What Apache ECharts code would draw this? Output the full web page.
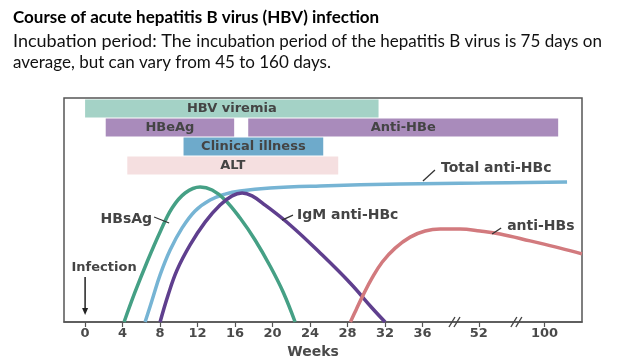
<!DOCTYPE html>
<html><head><meta charset="utf-8">
<script src="https://cdn.jsdelivr.net/npm/echarts@6/dist/echarts.min.js"></script>
<style>html,body{margin:0;padding:0;background:#fff}#c{width:638px;height:359px}</style>
</head><body><div id="c"></div>
<script>
// ---------- data ----------
const weekTicks = [0, 4, 8, 12, 16, 20, 24, 28, 32, 36, 52, 100];

const barNames = ['HBV viremia', 'HBeAg', 'Anti-HBe', 'Clinical illness', 'ALT'];
const barStart = [0, 2.2, 17.4, 10.5, 4.5];
const barEnd   = [31.3, 15.9, 110, 25.4, 27.0];
const barRow   = [0, 1, 1, 2, 3];

const hbsagWeeks = [4.16, 5.33, 6.61, 8.0, 9.28, 10.67, 12.27, 13.55, 14.93, 16.53, 18.13, 19.73, 21.12, 22.4];
const hbsagLevel = [0, 13.4, 26.8, 40.2, 50.9, 57.6, 60.3, 58.9, 54.5, 46.4, 36.6, 25, 13.4, 0];

const totalAntiHBcWeeks = [6.4, 7.15, 8.0, 9.07, 10.35, 11.73, 13.33, 14.93, 16.53, 19.73, 25.07, 33.6, 52.9, 116.5];
const totalAntiHBcLevel = [0, 9.8, 21, 32.1, 42, 49.6, 54.5, 57.1, 58.5, 59.8, 60.7, 61.6, 62, 62.5];

const igmWeeks = [8, 8.85, 9.81, 11.2, 12.8, 14.4, 15.68, 16.75, 17.81, 19.2, 21.87, 25.07, 28.27, 30.61, 32];
const igmLevel = [0, 12, 23.2, 34.4, 44.6, 52.2, 56.3, 57.6, 56.3, 52.2, 43.3, 30.8, 17.4, 6.25, 0];

const antiHBsWeeks = [28.3, 28.9, 29.65, 30.6, 31.7, 33.07, 34.67, 36.7, 40.98, 46.7, 52.9, 67.6, 89.5, 111.4, 127.4];
const antiHBsLevel = [0, 5.4, 12, 19.6, 26.8, 33, 37.9, 40.6, 41.5, 41.5, 40.6, 39.3, 36.2, 33, 30.4];

// ---------- broken week axis (0-36 linear, then compressed to 52 and 100) ----------
function weekToAxis(w) {
  if (w <= 36) return w;
  if (w <= 52) return 36 + (w - 36) * 6 / 16;
  return 42 + (w - 52) * 7 / 48;
}
const tickPos = weekTicks.map(weekToAxis);

// ---------- styles ----------
const barColors = {'HBV viremia': '#a4d2c6', 'HBeAg': '#a98bbb', 'Anti-HBe': '#a98bbb', 'Clinical illness': '#6eaacb', 'ALT': '#f5dfe0'};
const lineColors = {hbsag: '#45a085', total: '#76b4d4', igm: '#5f3f8e', antihbs: '#d27a7e'};
const labelFont = 'DejaVu Sans';
const textColor = '#444';

// annotations: anchor on a curve (weeks, level) + pixel offsets
const annotations = [
  {text: 'Total anti-HBc', at: [36.1, 62.9], leader: [12, -11], tx: 18, ty: -13, align: 'left'},
  {text: 'IgM anti-HBc', at: [21.0, 45.5], leader: [11, -5], tx: 15, ty: -5, align: 'left'},
  {text: 'HBsAg', at: [8.96, 44.2], leader: [-15, -6], tx: -17, ty: -4, align: 'right'},
  {text: 'anti-HBs', at: [61.7, 39.3], leader: [9, -6], tx: 15, ty: -8, align: 'left'}
];
const breakAt = [39.4, 46.0];

function lineSeries(weeks, level, color) {
  return {
    type: 'line', xAxisIndex: 0, yAxisIndex: 0,
    data: weeks.map((w, i) => [weekToAxis(w), level[i]]),
    smooth: 0.4, showSymbol: false, symbol: 'none',
    lineStyle: {color: color, width: 3.5}, z: 3, silent: true
  };
}

const chart = echarts.init(document.getElementById('c'), null, {renderer: 'canvas'});
chart.setOption({
  animation: false,
  backgroundColor: '#fff',
  title: [
    {text: 'Course of acute hepatitis B virus (HBV) infection', left: 8, top: 4,
     textStyle: {fontFamily: 'Lato', fontWeight: 'bold', fontSize: 17, color: '#000'}},
    {text: '{a|Incubation period: The} {b|incubation period of the hepatitis B virus is 75 days on}\n{b|average, but can vary from 45 to 160 days.}',
     left: 8, top: 26,
     textStyle: {fontWeight: 'normal', lineHeight: 21, rich: {
       a: {fontFamily: 'Lato', fontWeight: 'normal', fontSize: 18, color: '#111', lineHeight: 21},
       b: {fontFamily: 'Lato', fontWeight: 'normal', fontSize: 17, color: '#111', lineHeight: 21}}}}
  ],
  grid: {left: 64, right: 56, top: 98, bottom: 37, show: true, borderColor: '#555', borderWidth: 1.5,
         outerBoundsMode: 'none', containLabel: false},
  xAxis: {
    type: 'value', min: -2.25, max: 53.0,
    axisLine: {show: true, lineStyle: {color: '#555', width: 1.5}},
    axisTick: {show: true, customValues: tickPos, length: 5, lineStyle: {color: '#555', width: 1.2}},
    axisLabel: {customValues: tickPos, margin: 5, fontFamily: labelFont, fontWeight: 'bold', fontSize: 13, color: '#4a4a4a',
      formatter: function (v) {
        for (let i = 0; i < tickPos.length; i++) if (Math.abs(tickPos[i] - v) < 1e-6) return String(weekTicks[i]);
        return '';
      }},
    splitLine: {show: false},
    name: 'Weeks', nameLocation: 'middle', nameGap: 21,
    nameTextStyle: {fontFamily: labelFont, fontWeight: 'bold', fontSize: 14, color: '#4a4a4a', padding: [0, 20, 0, 0]}
  },
  yAxis: [
    {type: 'value', min: 0, max: 100, show: false},
    {type: 'value', inverse: true, min: -0.553, max: 11.24, show: false}
  ],
  series: [
    {
      type: 'custom', xAxisIndex: 0, yAxisIndex: 1, silent: true, z: 2,
      data: barNames.map((n, i) => [weekToAxis(barStart[i]), weekToAxis(barEnd[i]), barRow[i], n]),
      renderItem: function (params, api) {
        const name = barNames[params.dataIndex];
        const s = api.coord([api.value(0), api.value(2)]);
        const e = api.coord([api.value(1), api.value(2)]);
        const h = api.size([0, 1])[1] * 0.95;
        return {type: 'group', children: [
          {type: 'rect', shape: {x: s[0], y: s[1] - h / 2, width: e[0] - s[0], height: h}, style: {fill: barColors[name]}},
          {type: 'text', x: (s[0] + e[0]) / 2, y: s[1], style: {text: name, align: 'center', verticalAlign: 'middle',
            fontFamily: labelFont, fontWeight: 'bold', fontSize: 13, fill: textColor}}
        ]};
      }
    },
    lineSeries(totalAntiHBcWeeks, totalAntiHBcLevel, lineColors.total),
    lineSeries(hbsagWeeks, hbsagLevel, lineColors.hbsag),
    lineSeries(igmWeeks, igmLevel, lineColors.igm),
    lineSeries(antiHBsWeeks, antiHBsLevel, lineColors.antihbs),
    {
      type: 'custom', xAxisIndex: 0, yAxisIndex: 0, silent: true, z: 5, clip: false,
      data: annotations.map(a => [weekToAxis(a.at[0]), a.at[1]]),
      renderItem: function (params, api) {
        const a = annotations[params.dataIndex];
        const p = api.coord([api.value(0), api.value(1)]);
        return {type: 'group', children: [
          {type: 'line', shape: {x1: p[0], y1: p[1], x2: p[0] + a.leader[0], y2: p[1] + a.leader[1]}, style: {stroke: '#333', lineWidth: 1.3}},
          {type: 'text', x: p[0] + a.tx, y: p[1] + a.ty, style: {text: a.text, align: a.align, verticalAlign: 'middle',
            fontFamily: labelFont, fontWeight: 'bold', fontSize: 14, fill: textColor}}
        ]};
      }
    },
    {
      // infection arrow at week 0
      type: 'custom', xAxisIndex: 0, yAxisIndex: 0, silent: true, z: 5, clip: false,
      data: [[weekToAxis(0), 3.1]],
      renderItem: function (params, api) {
        const p = api.coord([api.value(0), api.value(1)]);
        return {type: 'group', children: [
          {type: 'line', shape: {x1: p[0], y1: p[1] - 38, x2: p[0], y2: p[1] - 5}, style: {stroke: '#222', lineWidth: 1.5}},
          {type: 'polygon', shape: {points: [[p[0] - 3, p[1] - 7], [p[0] + 3, p[1] - 7], [p[0], p[1]]]}, style: {fill: '#222'}},
          {type: 'text', x: p[0] + 19, y: p[1] - 47, style: {text: 'Infection', align: 'center', verticalAlign: 'middle',
            fontFamily: labelFont, fontWeight: 'bold', fontSize: 13, fill: textColor}}
        ]};
      }
    },
    {
      // axis break marks
      type: 'custom', xAxisIndex: 0, yAxisIndex: 0, silent: true, z: 6, clip: false,
      data: breakAt.map(u => [u, 0]),
      renderItem: function (params, api) {
        const p = api.coord([api.value(0), api.value(1)]);
        const mk = dx => ({type: 'line', shape: {x1: p[0] + dx - 3, y1: p[1] + 5, x2: p[0] + dx + 3, y2: p[1] - 5}, style: {stroke: '#444', lineWidth: 1.4}});
        return {type: 'group', children: [mk(-2.5), mk(2.5)]};
      }
    }
  ]
});
</script>
</body></html>
